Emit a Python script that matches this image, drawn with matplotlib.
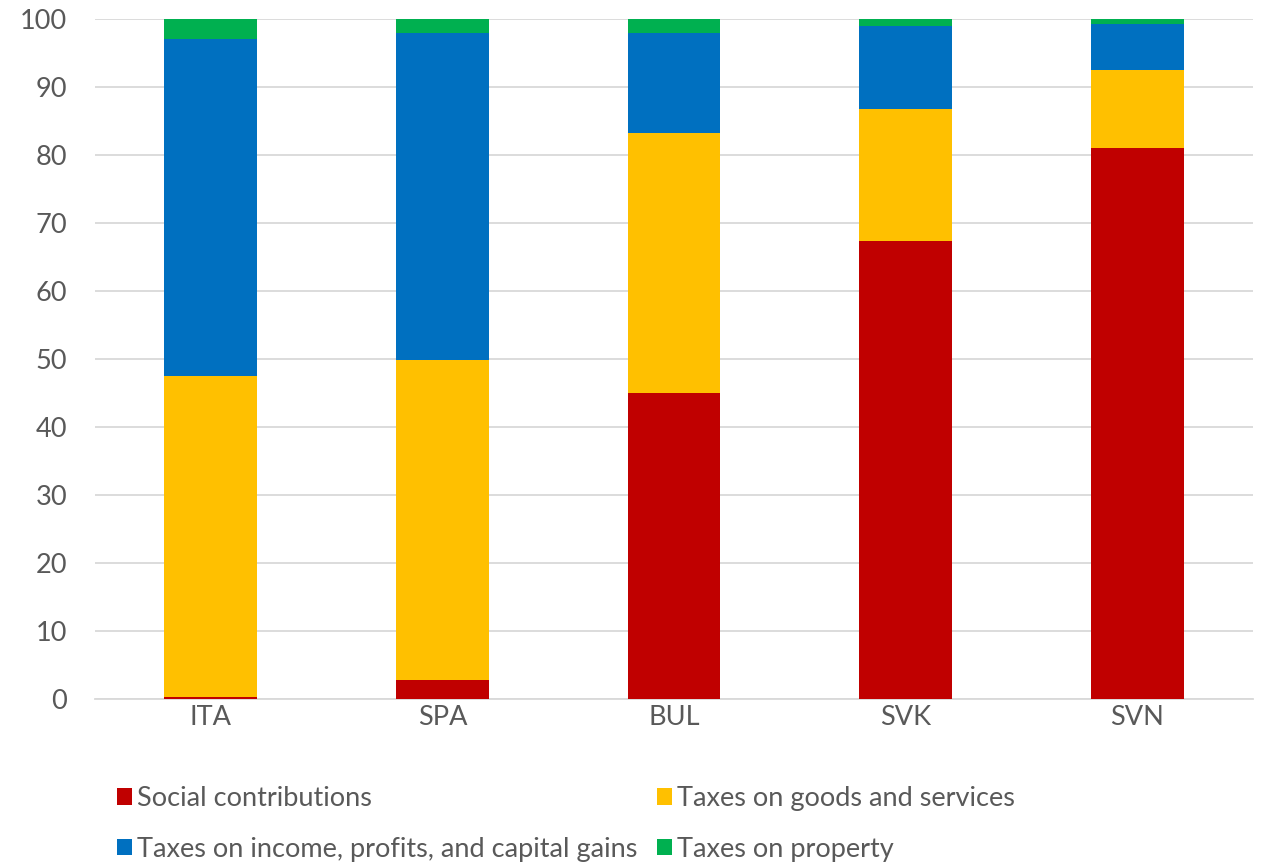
import numpy as np
import matplotlib.pyplot as plt

plt.rcParams['font.family'] = ['Lato', 'DejaVu Sans']

countries = ["ITA", "SPA", "BUL", "SVK", "SVN"]
social = [0.3, 2.8, 45.0, 67.4, 81.0]
goods = [47.2, 47.1, 38.3, 19.4, 11.5]
income = [49.6, 48.0, 14.7, 12.1, 6.8]
prop = [2.9, 2.1, 2.0, 1.1, 0.7]

series = [
    ("Social contributions", social, "#C00000"),
    ("Taxes on goods and services", goods, "#FFC000"),
    ("Taxes on income, profits, and capital gains", income, "#0070C0"),
    ("Taxes on property", prop, "#00B050"),
]

fig = plt.figure(figsize=(12.63, 8.64), dpi=100)
ax = fig.add_axes([95 / 1263, 1 - 699 / 864, 1158 / 1263, 680 / 864])

x = np.arange(len(countries))
bottom = np.zeros(len(countries))
handles = {}
for name, vals, color in series:
    b = ax.bar(x, vals, width=0.4, bottom=bottom, color=color, label=name,
               zorder=3, linewidth=0)
    handles[name] = b
    bottom += np.array(vals)

ax.set_xlim(-0.5, len(countries) - 0.5)
ax.set_ylim(0, 100)
ax.set_yticks(range(0, 101, 10))
ax.set_xticks(x)
ax.set_xticklabels(countries)
ax.grid(axis="y", color="#D9D9D9", linewidth=1.3, zorder=0)
ax.tick_params(axis="both", length=0, labelsize=19.5, colors="#595959")
ax.tick_params(axis="x", pad=4)
ax.tick_params(axis="y", pad=20)
for s in ["top", "right", "left"]:
    ax.spines[s].set_visible(False)
ax.spines["bottom"].set_color("#D9D9D9")
ax.spines["bottom"].set_linewidth(1.3)

order = [series[0][0], series[2][0], series[1][0], series[3][0]]
leg = fig.legend([handles[n] for n in order], order, ncol=2,
                 loc="upper left", bbox_to_anchor=(117 / 1263, 1 - 786 / 864),
                 frameon=False, fontsize=19.5, labelcolor="#595959",
                 handlelength=0.55, handleheight=0.55, handletextpad=0.2,
                 columnspacing=0.7, labelspacing=0.95, borderpad=0, borderaxespad=0)

fig.savefig("out.png", dpi=100)
